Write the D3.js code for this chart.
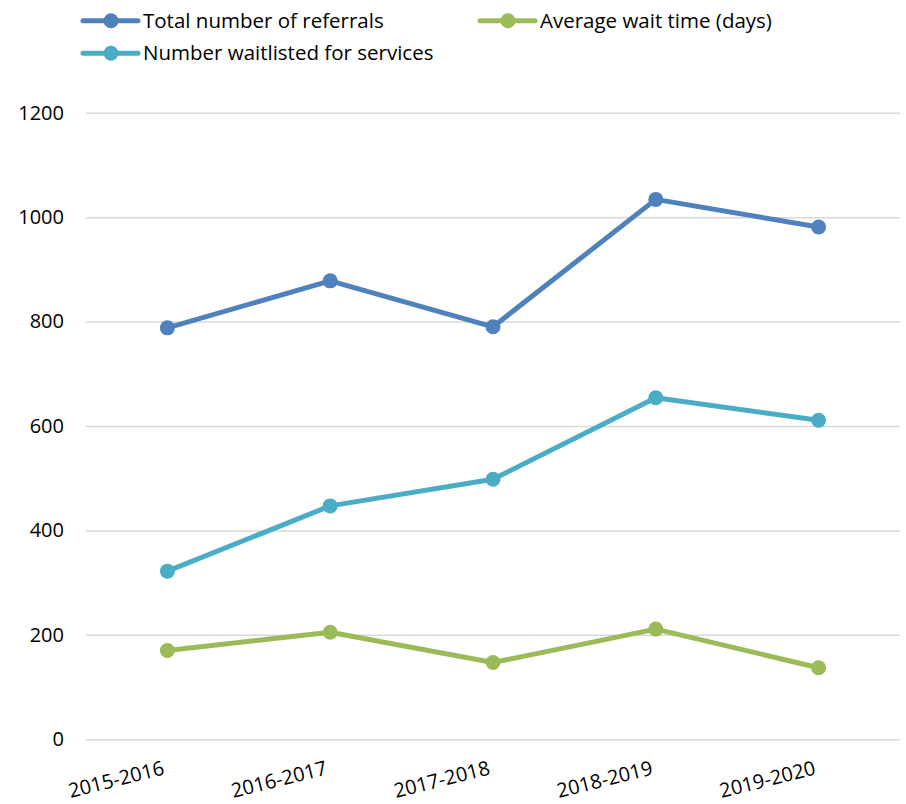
<!DOCTYPE html>
<html>
<head>
<meta charset="utf-8">
<script src="https://cdn.jsdelivr.net/npm/d3@7"></script>
<style>
  html, body { margin: 0; padding: 0; background: #fff; }
  svg text { font-family: "Open Sans", sans-serif; fill: #000; }
</style>
</head>
<body>
<svg id="chart" width="906" height="804"></svg>
<script>
// Service data by fiscal year
const years = ["2015-2016", "2016-2017", "2017-2018", "2018-2019", "2019-2020"];
const totalReferrals = [788, 878, 790, 1034, 981];
const waitlisted = [322, 447, 498, 654, 611];
const avgWaitDays = [170, 205, 147, 211, 137];
const yTicks = [0, 200, 400, 600, 800, 1000, 1200];

const series = [
  { name: "Total number of referrals", values: totalReferrals, color: "#4F81BD" },
  { name: "Average wait time (days)", values: avgWaitDays, color: "#9BBB59" },
  { name: "Number waitlisted for services", values: waitlisted, color: "#4BACC6" }
];

const FONT = "'Open Sans', sans-serif";
const svg = d3.select("#chart");
const plot = { left: 86, right: 900, top: 112.7, bottom: 739.3 };

const x = d3.scaleBand().domain(years).range([plot.left, plot.right]);
const y = d3.scaleLinear().domain([0, 1200]).range([plot.bottom, plot.top]);

// Horizontal gridlines and value labels
const yAxis = svg.append("g")
  .attr("transform", `translate(${plot.left},0)`)
  .call(d3.axisLeft(y).tickValues(yTicks).tickFormat(d3.format("d"))
    .tickSize(-(plot.right - plot.left)).tickPadding(22));
yAxis.select(".domain").remove();
yAxis.selectAll(".tick line").attr("stroke", "#d9d9d9").attr("stroke-width", 1.5);
yAxis.selectAll(".tick text").attr("font-size", 20).attr("font-family", FONT).attr("fill", "#000");

// Category labels, tilted
const xAxis = svg.append("g")
  .attr("transform", `translate(0,${plot.bottom})`)
  .call(d3.axisBottom(x).tickSize(0).tickPadding(0));
xAxis.select(".domain").remove();
xAxis.selectAll(".tick text")
  .attr("font-size", 20)
  .attr("font-family", FONT)
  .attr("fill", "#000")
  .attr("text-anchor", "end")
  .attr("dy", 0)
  .attr("transform", "translate(-2,35) rotate(-14)");

// Series lines and markers
const cx = d => x(d) + x.bandwidth() / 2;
const line = d3.line().x((v, i) => cx(years[i])).y(v => y(v));

const drawOrder = [series[2], series[1], series[0]];
drawOrder.forEach(s => {
  const g = svg.append("g");
  g.append("path")
    .attr("d", line(s.values))
    .attr("fill", "none")
    .attr("stroke", s.color)
    .attr("stroke-width", 5)
    .attr("stroke-linejoin", "round");
  g.selectAll("circle").data(s.values).join("circle")
    .attr("cx", (v, i) => cx(years[i]))
    .attr("cy", v => y(v))
    .attr("r", 7.5)
    .attr("fill", s.color);
});

// Legend
const legendPos = [
  { x: 83, y: 20.7 },
  { x: 480, y: 20.7 },
  { x: 83, y: 53.3 }
];
series.forEach((s, i) => {
  const p = legendPos[i];
  const g = svg.append("g").attr("transform", `translate(${p.x},${p.y})`);
  g.append("line").attr("x1", 0).attr("x2", 55).attr("y1", 0).attr("y2", 0)
    .attr("stroke", s.color).attr("stroke-width", 5).attr("stroke-linecap", "round");
  g.append("circle").attr("cx", 28).attr("cy", 0).attr("r", 7.5).attr("fill", s.color);
  g.append("text").attr("x", 60).attr("y", 0).attr("dy", "0.35em")
    .attr("font-size", 20.5).attr("font-family", FONT).text(s.name);
});
</script>
</body>
</html>
